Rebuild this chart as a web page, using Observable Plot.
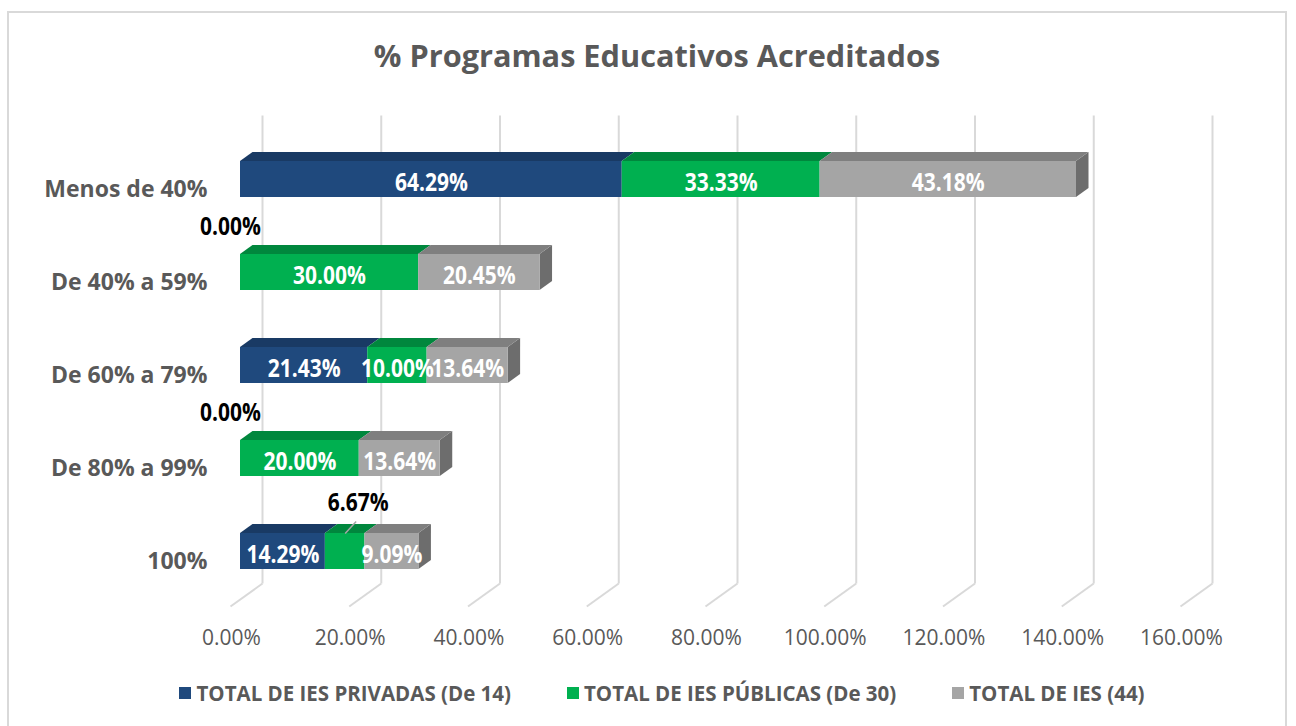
<!DOCTYPE html>
<html><head><meta charset="utf-8">
<script src="https://cdn.jsdelivr.net/npm/d3@7"></script>
<script src="https://cdn.jsdelivr.net/npm/@observablehq/plot@0.6"></script>
<style>
body{margin:0;background:#fff;font-family:"Open Sans",sans-serif;}
#wrap{position:relative;width:1296px;height:726px;overflow:hidden;background:#fff;}
#frame{position:absolute;left:7px;top:11px;width:1280px;height:720px;border:2px solid #d9d9d9;pointer-events:none;box-sizing:border-box;}
#title{height:90px;padding-top:10px;padding-left:18px;display:flex;align-items:center;justify-content:center;}
#title span{display:inline-block;font-weight:700;font-size:30.7px;color:#595959;}
#chart svg{display:block;}
#legend{height:66px;padding-left:28px;display:flex;align-items:center;justify-content:center;gap:56px;}
.item{display:flex;align-items:center;gap:5px;}
.sw{width:12px;height:12px;display:inline-block;}
.item span.t{display:inline-block;font-weight:700;font-size:20.5px;color:#595959;}
</style>
</head><body>
<div id="wrap">
  <div id="title"><span>% Programas Educativos Acreditados</span></div>
  <div id="chart"></div>
  <div id="legend"></div>
  <div id="frame"></div>
</div>
<script>
// ---- data ----
const categories = ["Menos de 40%", "De 40% a 59%", "De 60% a 79%", "De 80% a 99%", "100%"];
const seriesNames = ["TOTAL DE IES PRIVADAS (De 14)", "TOTAL DE IES PÚBLICAS (De 30)", "TOTAL DE IES (44)"];
const privadas = [64.29, 0.00, 21.43, 0.00, 14.29];
const publicas = [33.33, 30.00, 10.00, 20.00, 6.67];
const totalIES = [43.18, 20.45, 13.64, 13.64, 9.09];
const xTicks = [0, 20, 40, 60, 80, 100, 120, 140, 160];

// ---- styles ----
const front = ["#1f497d", "#00b050", "#a5a5a5"];
const topC = ["#193a64", "#00873d", "#7f7f7f"];
const sideC = ["#16325a", "#007535", "#6d6d6d"];

const X_PX = (1190 - 240) / 160;
const Y_PX = 93;
const H = 18 / Y_PX, DX = 12.5 / X_PX, DY = 9 / Y_PX;
const G_TOP = -64 / Y_PX, G_FLOOR = 404 / Y_PX, G_BOT = 427 / Y_PX;
const G_BACK = 22 / X_PX, G_FRONT = -10 / X_PX;
const TICK_Y = 458 / Y_PX;

const values = [privadas, publicas, totalIES];
const segs = [];
categories.forEach((c, i) => {
  let acc = 0;
  values.forEach((arr, s) => {
    const v = arr[i];
    segs.push({row: i, s, v, a: acc, b: acc + v, mid: acc + v / 2});
    acc += v;
  });
});
const shown = segs.filter(d => d.v > 0);
const lastSeg = categories.map((c, i) => shown.filter(d => d.row === i).slice(-1)[0]);

const topPts = shown.flatMap((d, k) => [
  {k, s: d.s, y: d.row - H, x1: d.a, x2: d.b},
  {k, s: d.s, y: d.row - H - DY, x1: d.a + DX, x2: d.b + DX}
]);
const sidePts = lastSeg.flatMap((d, k) => [
  {k, s: d.s, x: d.b, y1: d.row - H, y2: d.row + H},
  {k, s: d.s, x: d.b + DX, y1: d.row - H - DY, y2: d.row + H - DY}
]);
const fmt = v => v.toFixed(2) + "%";
const FONT = "'Open Sans', sans-serif";

const plot = Plot.plot({
  width: 1296, height: 560,
  marginLeft: 240, marginRight: 106, marginTop: 0, marginBottom: 0,
  x: {domain: [0, 160], axis: null},
  y: {domain: [0, 4], range: [79, 451], axis: null},
  style: {fontFamily: FONT, background: "transparent"},
  marks: [
    Plot.link(xTicks, {x1: d => d + G_BACK, x2: d => d + G_BACK, y1: () => G_TOP, y2: () => G_FLOOR, stroke: "#d9d9d9", strokeWidth: 2}),
    Plot.link(xTicks, {x1: d => d + G_BACK, x2: d => d + G_FRONT, y1: () => G_FLOOR, y2: () => G_BOT, stroke: "#d9d9d9", strokeWidth: 2}),
    Plot.areaY(sidePts, {x: "x", y1: "y1", y2: "y2", z: "k", fill: d => sideC[d.s]}),
    Plot.areaX(topPts, {y: "y", x1: "x1", x2: "x2", z: "k", fill: d => topC[d.s]}),
    Plot.rect(shown, {x1: "a", x2: "b", y1: d => d.row - H, y2: d => d.row + H, fill: d => front[d.s]}),
    Plot.text(shown.filter(d => d.v >= 8), {x: "mid", y: "row", text: d => fmt(d.v), dy: 4, fill: "white", fontWeight: 700, fontSize: 21, className: "st12"}),
    Plot.text(segs.filter(d => d.v === 0), {x: "a", y: "row", text: d => fmt(d.v), dx: -10, dy: -45, fill: "black", fontWeight: 700, fontSize: 21, className: "st12"}),
    Plot.link(shown.filter(d => d.v < 8), {x1: "mid", x2: d => d.mid + 11 / X_PX, y1: d => d.row - H, y2: d => d.row - 30 / Y_PX, stroke: "#a6a6a6", strokeWidth: 1.5}),
    Plot.text(shown.filter(d => d.v < 8), {x: "mid", y: "row", text: d => fmt(d.v), dx: 13, dy: -48, fill: "black", fontWeight: 700, fontSize: 21, className: "st12"}),
    Plot.text(categories, {x: () => 0, y: (d, i) => i, text: d => d, textAnchor: "end", dx: -33, dy: 10, fill: "#595959", fontWeight: 700, fontSize: 23}),
    Plot.text(xTicks, {x: d => d, y: () => TICK_Y, text: d => fmt(d), dx: -9, fill: "#595959", fontSize: 21, className: "st13"})
  ]
});
function stretch(sel, S) {
  plot.querySelectorAll(sel).forEach(t => {
    const tr = t.getAttribute("transform");
    if (tr) t.setAttribute("transform", tr + ` scale(1,${S})`);
    else {
      const x = +t.getAttribute("x") || 0, y = +t.getAttribute("y") || 0;
      t.setAttribute("transform", `translate(${x},${y}) scale(1,${S}) translate(${-x},${-y})`);
    }
  });
}
stretch(".st12 text", 1.15);
stretch(".st13 text", 1.05);
document.getElementById("chart").appendChild(plot);

const leg = document.getElementById("legend");
seriesNames.forEach((n, s) => {
  const it = document.createElement("div");
  it.className = "item";
  it.innerHTML = `<span class="sw" style="background:${front[s]}"></span><span class="t">${n}</span>`;
  leg.appendChild(it);
});
</script>
</body></html>
